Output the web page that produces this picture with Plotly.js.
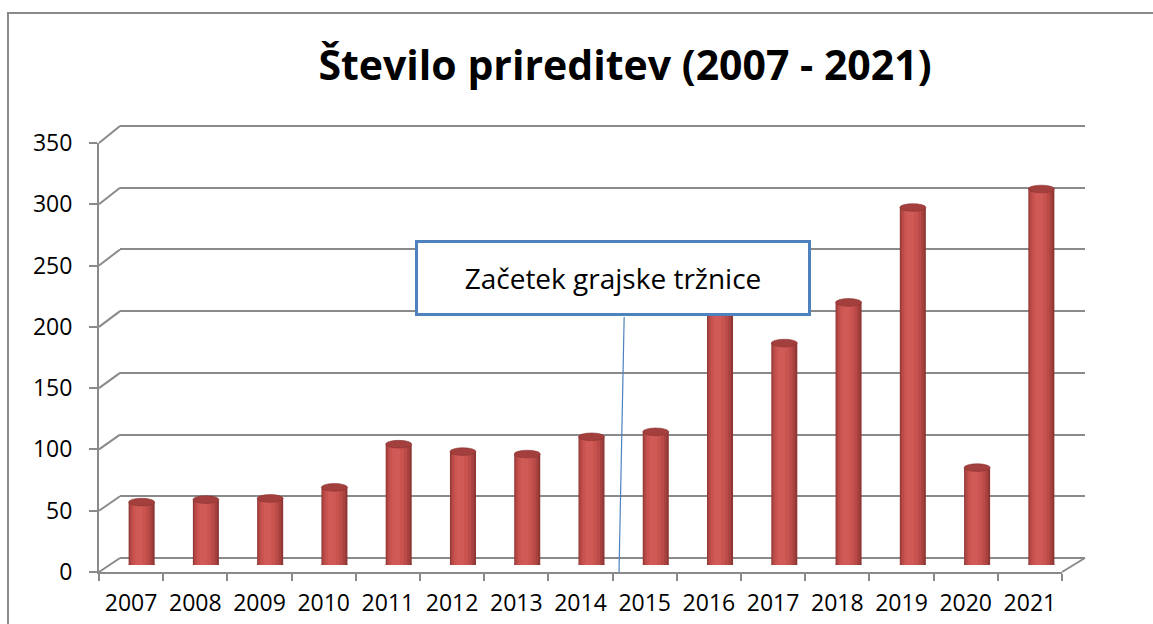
<!DOCTYPE html>
<html>
<head>
<meta charset="utf-8">
<script src="https://cdn.plot.ly/plotly-3.0.1.min.js"></script>
<style>html,body{margin:0;padding:0;background:#fff;}#chart{width:1153px;height:624px;}</style>
</head>
<body>
<div id="chart"></div>
<script>
// ---- data ----
const years = ['2007','2008','2009','2010','2011','2012','2013','2014','2015','2016','2017','2018','2019','2020','2021'];
const events = [51, 53, 54, 63, 98, 92, 90, 104, 108, 230, 180, 213, 290, 79, 305];
const yTicks = [0, 50, 100, 150, 200, 250, 300, 350];
const chartTitle = 'Število prireditev (2007 - 2021)';
const noteText = 'Začetek grajske tržnice';
const noteBetween = 7.6; // category position (between 2014 and 2015) the callout points to

// ---- layout geometry (pixels) ----
const W = 1153, H = 624;
const px = v => v / W, py = v => 1 - v / H;
const FRONT = {x0: 99, x1: 1062, y0: 572, y1: 143};
const BACK  = {x0: 120, x1: 1085, y0: 558, y1: 126};
const MID   = {x0: 109.5, x1: 1073.5, y0: 565, y1: 133.5};
const YMAX = 350, YTOP = 353;
const GRID = '#8a8a8a';
const FONT = '"Open Sans", "Noto Sans", sans-serif';

// cylinder shading layers (style only)
const shades = [
  {w: 0.405, c: '#8f3734', off: -0.2025},
  {w: 0.36,  c: '#a8423f', off: -0.19},
  {w: 0.30,  c: '#ba4b48', off: -0.17},
  {w: 0.22,  c: '#c9534f', off: -0.14},
  {w: 0.12,  c: '#d05a56', off: -0.10}
];

const traces = [];
// invisible helper traces so the back and front axes exist as category axes
traces.push({type: 'scatter', mode: 'none', x: years, y: events, xaxis: 'x', yaxis: 'y', hoverinfo: 'skip', showlegend: false});
traces.push({type: 'scatter', mode: 'none', x: years, y: events, xaxis: 'x2', yaxis: 'y2', hoverinfo: 'skip', showlegend: false});
shades.forEach(s => {
  traces.push({
    type: 'bar', x: years, y: events, xaxis: 'x3', yaxis: 'y3',
    width: s.w, offset: s.off, marker: {color: s.c, line: {width: 0}},
    hoverinfo: 'x+y', showlegend: false
  });
});

const shapes = [];
// outer chart border
shapes.push({type: 'rect', xref: 'paper', yref: 'paper', x0: px(8), x1: px(1170), y0: py(13), y1: py(640),
  line: {color: '#8a8a8a', width: 2}, fillcolor: 'rgba(0,0,0,0)', layer: 'below'});
// diagonal connectors from front axis ticks to back wall gridlines
const fScale = (FRONT.y0 - FRONT.y1) / YMAX, bScale = (BACK.y0 - BACK.y1) / YMAX;
yTicks.forEach(v => {
  shapes.push({type: 'line', xref: 'paper', yref: 'paper',
    x0: px(FRONT.x0), y0: py(FRONT.y0 - v * fScale), x1: px(BACK.x0), y1: py(BACK.y0 - v * bScale),
    line: {color: GRID, width: 2}, layer: 'below'});
});
// right floor edge
shapes.push({type: 'line', xref: 'paper', yref: 'paper',
  x0: px(FRONT.x1), y0: py(FRONT.y0), x1: px(BACK.x1), y1: py(BACK.y0),
  line: {color: GRID, width: 2}, layer: 'below'});
// cylinder bottoms and tops
const eh = 3.1;
years.forEach((yr, i) => {
  shapes.push({type: 'circle', xref: 'x3', yref: 'y3', x0: i - 0.2025, x1: i + 0.2025, y0: -eh, y1: eh,
    fillcolor: '#a8423f', line: {width: 0}, layer: 'between'});
  shapes.push({type: 'circle', xref: 'x3', yref: 'y3', x0: i - 0.2025, x1: i + 0.2025, y0: events[i] - eh, y1: events[i] + eh,
    fillcolor: '#a3403d', line: {color: '#8a3330', width: 0.6}, layer: 'above'});
});
// callout connector
shapes.push({type: 'line', xref: 'x2', yref: 'paper', x0: noteBetween, y0: py(572), x1: noteBetween + 0.08, y1: py(317),
  line: {color: '#4f81bd', width: 1.2}, layer: 'above'});

const backTop = BACK.y0 - (BACK.y0 - BACK.y1) * YTOP / YMAX;

const layout = {
  width: W, height: H, autosize: false,
  margin: {l: 0, r: 0, t: 0, b: 0, pad: 0},
  paper_bgcolor: '#ffffff', plot_bgcolor: 'rgba(0,0,0,0)',
  showlegend: false,
  font: {family: FONT, color: '#000', size: 23},
  title: {text: chartTitle, x: 625 / W, xanchor: 'center', y: py(66), yanchor: 'middle',
    font: {family: FONT, size: 41, weight: 700, color: '#000'}},
  // back wall
  xaxis: {domain: [px(BACK.x0), px(BACK.x1)], range: [-0.5, 14.5], type: 'category', categoryarray: years,
    showgrid: false, showticklabels: false, ticks: '', showline: false, zeroline: false, anchor: 'y', fixedrange: true},
  yaxis: {domain: [py(BACK.y0), py(backTop)], range: [0, YTOP], tickvals: yTicks, showticklabels: false, ticks: '',
    showgrid: true, gridcolor: GRID, gridwidth: 2, zeroline: true, zerolinecolor: GRID, zerolinewidth: 2,
    showline: false, anchor: 'x', fixedrange: true},
  // front axes
  xaxis2: {domain: [px(FRONT.x0), px(FRONT.x1)], range: [-0.5, 14.5], type: 'category', categoryarray: years,
    anchor: 'y2', showgrid: false, zeroline: false, showline: true, linecolor: GRID, linewidth: 2,
    ticks: 'outside', tickson: 'boundaries', ticklen: 7, tickwidth: 2, tickcolor: GRID,
    tickfont: {family: FONT, size: 23, color: '#000'}, ticklabelstandoff: 9, fixedrange: true},
  yaxis2: {domain: [py(FRONT.y0), py(FRONT.y1)], range: [0, YMAX], tickvals: yTicks,
    anchor: 'x2', showgrid: false, zeroline: false, showline: true, linecolor: GRID, linewidth: 2,
    ticks: 'outside', ticklen: 8, tickwidth: 2, tickcolor: GRID,
    tickfont: {family: FONT, size: 23, color: '#000'}, ticklabelstandoff: 12, fixedrange: true},
  // bars (mid depth)
  xaxis3: {domain: [px(MID.x0), px(MID.x1)], range: [-0.5, 14.5], type: 'category', categoryarray: years,
    anchor: 'y3', visible: false, fixedrange: true},
  yaxis3: {domain: [py(MID.y0), py(MID.y1)], range: [0, YMAX], anchor: 'x3', visible: false, fixedrange: true},
  barmode: 'overlay',
  shapes: shapes,
  annotations: [{
    text: noteText, xref: 'paper', yref: 'paper', x: 613 / W, y: py(278), xanchor: 'center', yanchor: 'middle',
    showarrow: false, width: 388, height: 68, align: 'center', valign: 'middle',
    bgcolor: '#ffffff', bordercolor: '#4f81bd', borderwidth: 3, borderpad: 1,
    font: {family: FONT, size: 28, color: '#000'}
  }]
};

Plotly.newPlot('chart', traces, layout, {displayModeBar: false, staticPlot: true});
</script>
</body>
</html>
